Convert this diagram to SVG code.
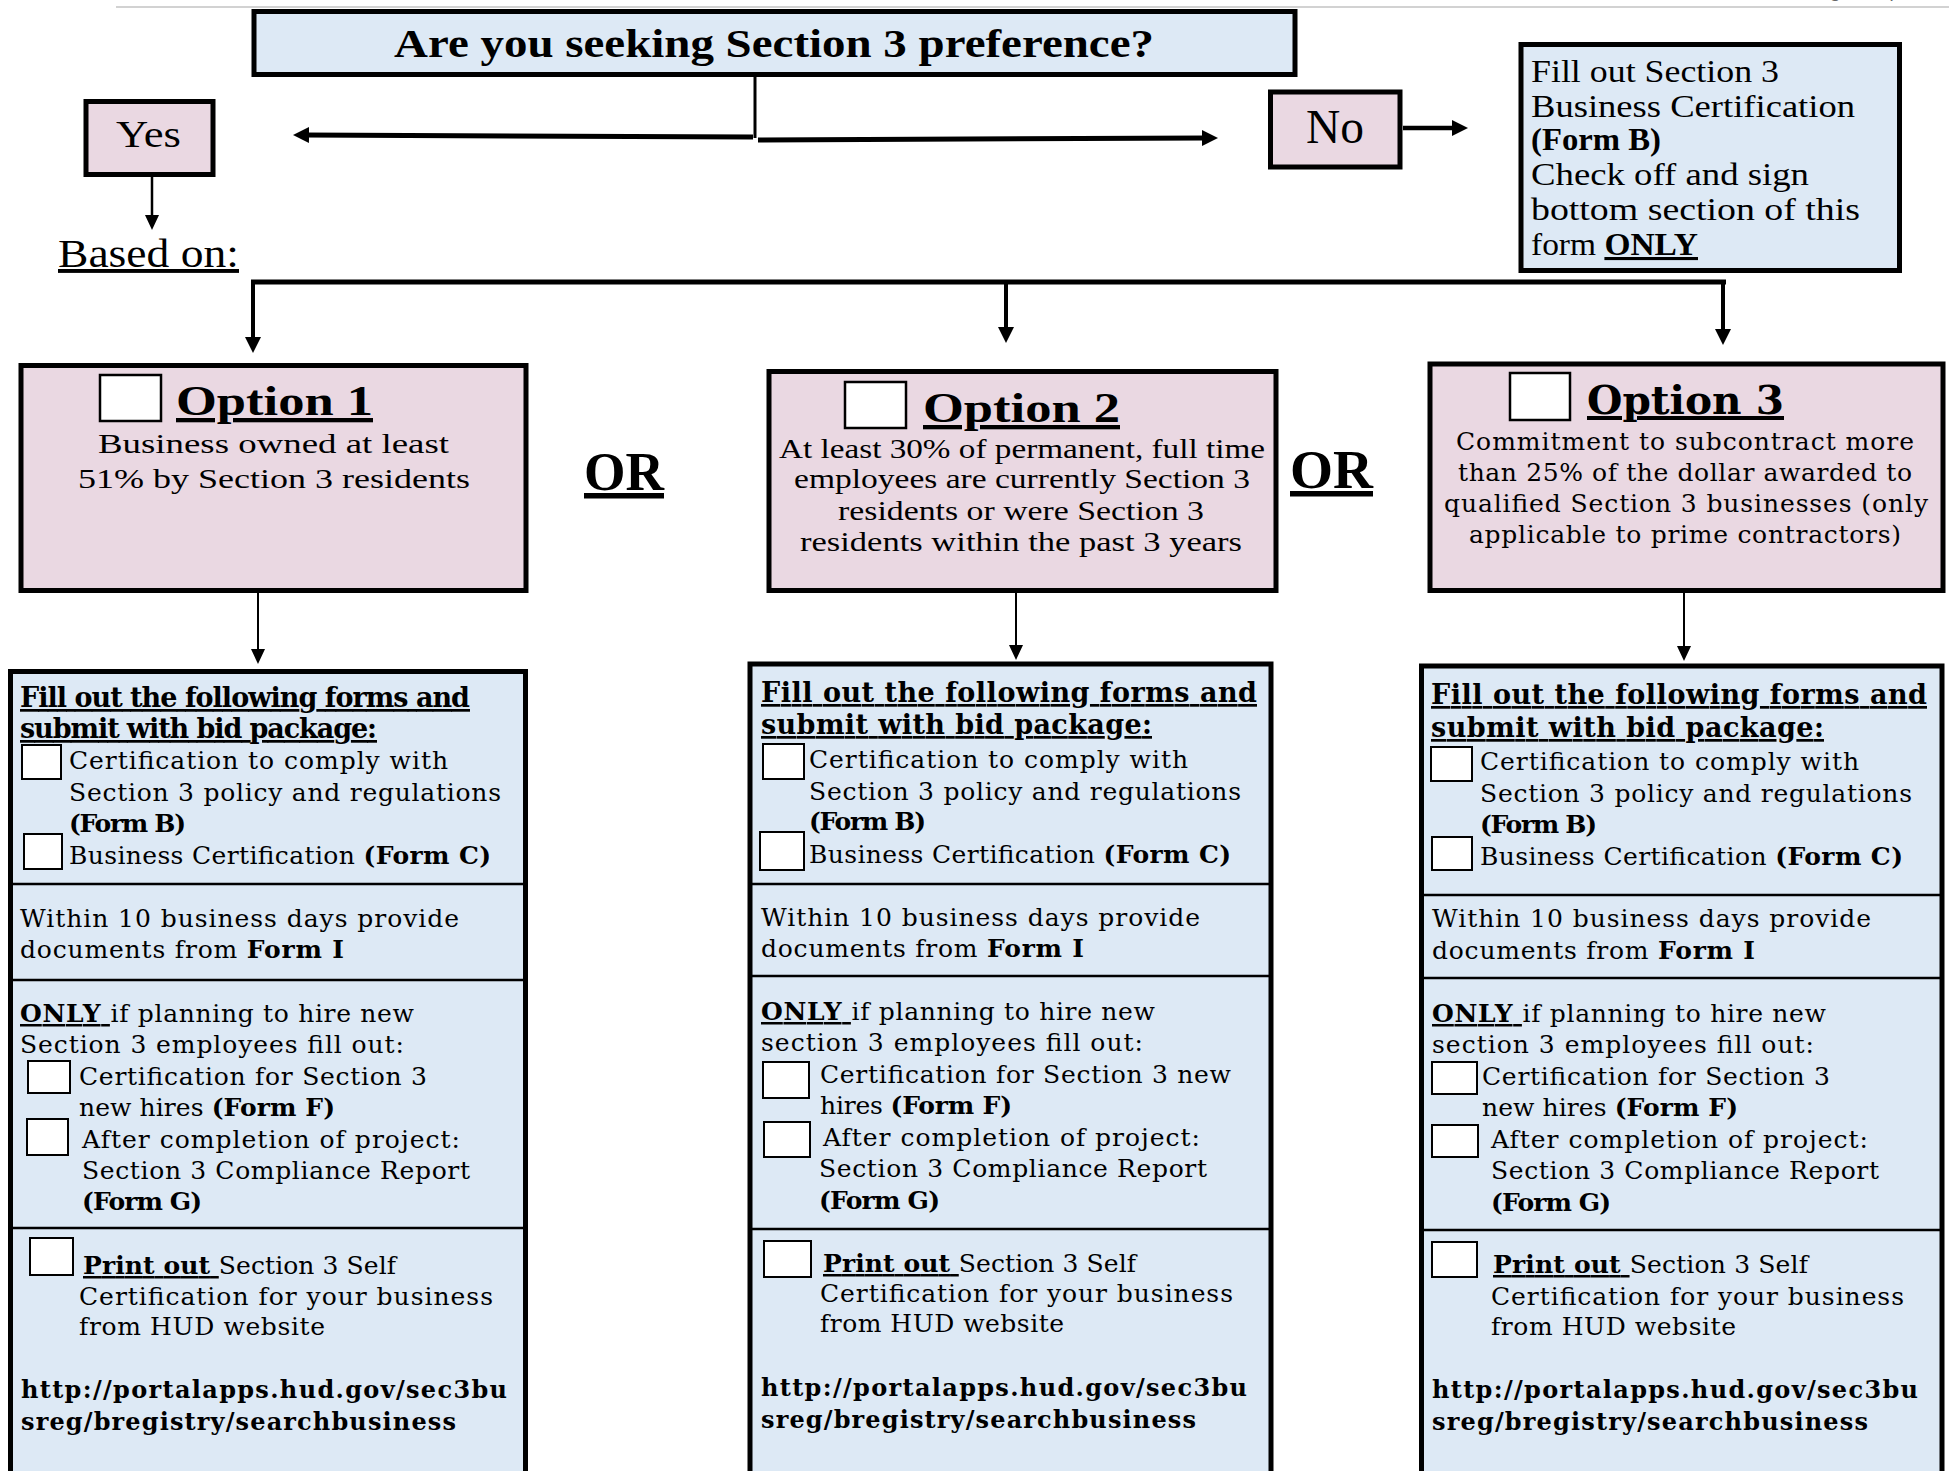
<svg xmlns="http://www.w3.org/2000/svg" width="1954" height="1471" viewBox="0 0 1954 1471">
<style>
.box{stroke:#000;stroke-width:5}
.pink{fill:#ead8e2}
.blue{fill:#dde9f5}
.cb{fill:#fff;stroke:#000;stroke-width:2}
.cbo{fill:#fff;stroke:#000;stroke-width:2.5}
.div{stroke:#000;stroke-width:2.5}
.cam{font-family:"Liberation Serif",serif;fill:#000}
.dv{font-family:"DejaVu Serif",serif;font-size:25px;fill:#000}
.hd{font-size:27px;font-weight:bold;text-decoration:underline}
.url{font-size:24px;font-weight:bold}
.b{font-weight:bold}
.u{text-decoration:underline}
.conn{stroke:#000;fill:none}
</style>
<defs>
<marker id="ahT" viewBox="0 0 16 16" refX="4" refY="8" markerWidth="16" markerHeight="16" markerUnits="userSpaceOnUse" orient="auto"><path d="M0,0 L16,8 L0,16 z" fill="#000"/></marker>
<marker id="ah" viewBox="0 0 15 14" refX="3" refY="7" markerWidth="15" markerHeight="14" markerUnits="userSpaceOnUse" orient="auto"><path d="M0,0 L15,7 L0,14 z" fill="#000"/></marker>
</defs>
<rect width="1954" height="1471" fill="#fff"/>

<g id="page-header">
<line x1="116" y1="7" x2="1949" y2="7" stroke="#d2d2d2" stroke-width="2"/>
<text y="-3" font-family="Liberation Sans,sans-serif" font-size="20" fill="#666"><tspan x="1805">Page</tspan><tspan x="1889">|</tspan><tspan x="1900">1</tspan></text>
</g>

<g id="connectors">
<path class="conn" d="M755,77 V138" stroke-width="3"/>
<path class="conn" d="M753,137 L305,135" stroke-width="5" marker-end="url(#ahT)"/>
<path class="conn" d="M758,140 L1206,138" stroke-width="5" marker-end="url(#ahT)"/>
<path class="conn" d="M152,177 V218" stroke-width="2.5" marker-end="url(#ah)"/>
<path class="conn" d="M1403,128 H1456" stroke-width="4.5" marker-end="url(#ahT)"/>
<path class="conn" d="M251,282 H1726" stroke-width="5"/>
<path class="conn" d="M253,282 V341" stroke-width="4" marker-end="url(#ahT)"/>
<path class="conn" d="M1006,282 V331" stroke-width="4" marker-end="url(#ahT)"/>
<path class="conn" d="M1723,282 V333" stroke-width="4" marker-end="url(#ahT)"/>
<path class="conn" d="M258,593 V652" stroke-width="2" marker-end="url(#ah)"/>
<path class="conn" d="M1016,593 V648" stroke-width="2" marker-end="url(#ah)"/>
<path class="conn" d="M1684,593 V649" stroke-width="2" marker-end="url(#ah)"/>
</g>

<g id="question">
<rect class="box blue" x="254" y="11.5" width="1041" height="63"/>
<text class="cam b" x="394" y="57" font-size="39" textLength="760" lengthAdjust="spacingAndGlyphs">Are you seeking Section 3 preference?</text>
</g>

<g id="yes">
<rect class="box pink" x="86" y="101.5" width="127" height="73"/>
<text class="cam" x="116" y="147" font-size="37" textLength="65" lengthAdjust="spacingAndGlyphs">Yes</text>
</g>

<g id="based-on">
<text class="cam u" x="58" y="267" font-size="39" textLength="181" lengthAdjust="spacingAndGlyphs">Based on:</text>
</g>

<g id="no">
<rect class="box pink" x="1270.5" y="92" width="129.5" height="75"/>
<text class="cam" x="1306" y="143" font-size="48" textLength="58" lengthAdjust="spacingAndGlyphs">No</text>
</g>

<g id="no-info">
<rect class="box blue" x="1521" y="44.5" width="378.5" height="226"/>
<text class="cam" x="1531" y="82" font-size="31" textLength="248" lengthAdjust="spacingAndGlyphs">Fill out Section 3</text>
<text class="cam" x="1531" y="117" font-size="31" textLength="324" lengthAdjust="spacingAndGlyphs">Business Certification</text>
<text class="cam b" x="1531" y="150" font-size="31" textLength="130" lengthAdjust="spacingAndGlyphs">(Form B)</text>
<text class="cam" x="1531" y="185" font-size="31" textLength="278" lengthAdjust="spacingAndGlyphs">Check off and sign</text>
<text class="cam" x="1531" y="220" font-size="31" textLength="329" lengthAdjust="spacingAndGlyphs">bottom section of this</text>
<text class="cam" x="1531" y="255" font-size="31" textLength="167" lengthAdjust="spacingAndGlyphs">form <tspan class="b u">ONLY</tspan></text>
</g>

<g id="option1">
<rect class="box pink" x="21" y="365.5" width="505" height="225"/>
<rect class="cbo" x="100" y="375" width="61" height="46"/>
<text class="cam b u" x="176" y="415" font-size="43" textLength="197" lengthAdjust="spacingAndGlyphs">Option 1</text>
<text class="cam" x="98" y="453" font-size="27.5" textLength="351" lengthAdjust="spacingAndGlyphs">Business owned at least</text>
<text class="cam" x="78" y="488" font-size="27.5" textLength="392" lengthAdjust="spacingAndGlyphs">51% by Section 3 residents</text>
</g>

<g id="or1">
<text class="cam b u" x="584" y="490" font-size="55" textLength="80" lengthAdjust="spacingAndGlyphs">OR</text>
</g>

<g id="option2">
<rect class="box pink" x="769" y="371.5" width="507" height="219"/>
<rect class="cbo" x="845" y="382" width="61" height="46"/>
<text class="cam b u" x="923" y="422" font-size="43" textLength="197" lengthAdjust="spacingAndGlyphs">Option 2</text>
<text class="cam" x="779" y="458" font-size="27.5" textLength="486" lengthAdjust="spacingAndGlyphs">At least 30% of permanent, full time</text>
<text class="cam" x="794" y="488" font-size="27.5" textLength="456" lengthAdjust="spacingAndGlyphs">employees are currently Section 3</text>
<text class="cam" x="838" y="520" font-size="27.5" textLength="366" lengthAdjust="spacingAndGlyphs">residents or were Section 3</text>
<text class="cam" x="800" y="551" font-size="27.5" textLength="442" lengthAdjust="spacingAndGlyphs">residents within the past 3 years</text>
</g>

<g id="or2">
<text class="cam b u" x="1290" y="488" font-size="55" textLength="83" lengthAdjust="spacingAndGlyphs">OR</text>
</g>

<g id="option3">
<rect class="box pink" x="1430" y="364" width="513" height="226.5"/>
<rect class="cbo" x="1510" y="373" width="60" height="47"/>
<text class="dv b u" x="1587" y="414" style="font-size:40px" textLength="197" lengthAdjust="spacingAndGlyphs">Option 3</text>
<text class="dv" x="1456" y="450" textLength="458">Commitment to subcontract more</text>
<text class="dv" x="1458" y="481" textLength="454">than 25% of the dollar awarded to</text>
<text class="dv" x="1444" y="512" textLength="484">qualified Section 3 businesses (only</text>
<text class="dv" x="1469" y="543" textLength="432">applicable to prime contractors)</text>
</g>

<g id="forms1">
<rect class="box blue" x="10.5" y="671.5" width="515" height="830"/>
<line class="div" x1="10.5" y1="884" x2="525.5" y2="884"/>
<line class="div" x1="10.5" y1="980" x2="525.5" y2="980"/>
<line class="div" x1="10.5" y1="1228" x2="525.5" y2="1228"/>
<rect class="cb" x="22" y="745" width="39" height="34"/>
<rect class="cb" x="24" y="834" width="38" height="35"/>
<rect class="cb" x="28" y="1061" width="42" height="32"/>
<rect class="cb" x="27" y="1119" width="41" height="36"/>
<rect class="cb" x="30" y="1238" width="43" height="37"/>
<text class="dv hd" x="20" y="707" textLength="450">Fill out the following forms and</text>
<text class="dv hd" x="20" y="738" textLength="357">submit with bid package:</text>
<text class="dv" x="69" y="769" textLength="379">Certification to comply with</text>
<text class="dv" x="69" y="801" textLength="432">Section 3 policy and regulations</text>
<text class="dv b" x="69" y="832" textLength="117">(Form B)</text>
<text class="dv" x="69" y="864" textLength="422">Business Certification <tspan class="b">(Form C)</tspan></text>
<text class="dv" x="20" y="927" textLength="439">Within 10 business days provide</text>
<text class="dv" x="20" y="958" textLength="324">documents from <tspan class="b">Form I</tspan></text>
<text class="dv" x="20" y="1022" textLength="394"><tspan class="b u">ONLY </tspan>if planning to hire new</text>
<text class="dv" x="20" y="1053" textLength="384">Section 3 employees fill out:</text>
<text class="dv" x="79" y="1085" textLength="348">Certification for Section 3</text>
<text class="dv" x="79" y="1116" textLength="256">new hires <tspan class="b">(Form F)</tspan></text>
<text class="dv" x="82" y="1148" textLength="378">After completion of project:</text>
<text class="dv" x="82" y="1179" textLength="388">Section 3 Compliance Report</text>
<text class="dv b" x="82" y="1210" textLength="120">(Form G)</text>
<text class="dv" x="83" y="1274" textLength="313"><tspan class="b u">Print out </tspan>Section 3 Self</text>
<text class="dv" x="79" y="1305" textLength="414">Certification for your business</text>
<text class="dv" x="79" y="1335" textLength="246">from HUD website</text>
<text class="dv url" x="21" y="1398" textLength="486">http://portalapps.hud.gov/sec3bu</text>
<text class="dv url" x="21" y="1430" textLength="435">sreg/bregistry/searchbusiness</text>
</g>

<g id="forms2">
<rect class="box blue" x="750" y="664" width="521" height="840"/>
<line class="div" x1="750" y1="884" x2="1271" y2="884"/>
<line class="div" x1="750" y1="976" x2="1271" y2="976"/>
<line class="div" x1="750" y1="1229" x2="1271" y2="1229"/>
<rect class="cb" x="763" y="744" width="41" height="35"/>
<rect class="cb" x="760" y="832" width="44" height="38"/>
<rect class="cb" x="763" y="1062" width="46" height="36"/>
<rect class="cb" x="764" y="1122" width="46" height="35"/>
<rect class="cb" x="764" y="1241" width="47" height="36"/>
<text class="dv hd" x="761" y="702" textLength="496">Fill out the following forms and</text>
<text class="dv hd" x="761" y="734" textLength="391">submit with bid package:</text>
<text class="dv" x="809" y="768" textLength="379">Certification to comply with</text>
<text class="dv" x="809" y="800" textLength="432">Section 3 policy and regulations</text>
<text class="dv b" x="809" y="830" textLength="117">(Form B)</text>
<text class="dv" x="809" y="863" textLength="422">Business Certification <tspan class="b">(Form C)</tspan></text>
<text class="dv" x="761" y="926" textLength="439">Within 10 business days provide</text>
<text class="dv" x="761" y="957" textLength="323">documents from <tspan class="b">Form I</tspan></text>
<text class="dv" x="761" y="1020" textLength="394"><tspan class="b u">ONLY </tspan>if planning to hire new</text>
<text class="dv" x="761" y="1051" textLength="382">section 3 employees fill out:</text>
<text class="dv" x="820" y="1083" textLength="411">Certification for Section 3 new</text>
<text class="dv" x="820" y="1114" textLength="192">hires <tspan class="b">(Form F)</tspan></text>
<text class="dv" x="823" y="1146" textLength="377">After completion of project:</text>
<text class="dv" x="819" y="1177" textLength="388">Section 3 Compliance Report</text>
<text class="dv b" x="819" y="1209" textLength="121">(Form G)</text>
<text class="dv" x="823" y="1272" textLength="313"><tspan class="b u">Print out </tspan>Section 3 Self</text>
<text class="dv" x="820" y="1302" textLength="413">Certification for your business</text>
<text class="dv" x="820" y="1332" textLength="244">from HUD website</text>
<text class="dv url" x="761" y="1396" textLength="486">http://portalapps.hud.gov/sec3bu</text>
<text class="dv url" x="761" y="1428" textLength="435">sreg/bregistry/searchbusiness</text>
</g>

<g id="forms3">
<rect class="box blue" x="1421.5" y="666" width="520.5" height="840"/>
<line class="div" x1="1421.5" y1="895" x2="1942" y2="895"/>
<line class="div" x1="1421.5" y1="978" x2="1942" y2="978"/>
<line class="div" x1="1421.5" y1="1230" x2="1942" y2="1230"/>
<rect class="cb" x="1431" y="747" width="41" height="34"/>
<rect class="cb" x="1432" y="837" width="40" height="33"/>
<rect class="cb" x="1432" y="1062" width="45" height="32"/>
<rect class="cb" x="1432" y="1125" width="46" height="32"/>
<rect class="cb" x="1432" y="1242" width="45" height="35"/>
<text class="dv hd" x="1431" y="704" textLength="496">Fill out the following forms and</text>
<text class="dv hd" x="1431" y="737" textLength="393">submit with bid package:</text>
<text class="dv" x="1480" y="770" textLength="379">Certification to comply with</text>
<text class="dv" x="1480" y="802" textLength="432">Section 3 policy and regulations</text>
<text class="dv b" x="1480" y="833" textLength="117">(Form B)</text>
<text class="dv" x="1480" y="865" textLength="423">Business Certification <tspan class="b">(Form C)</tspan></text>
<text class="dv" x="1432" y="927" textLength="439">Within 10 business days provide</text>
<text class="dv" x="1432" y="959" textLength="323">documents from <tspan class="b">Form I</tspan></text>
<text class="dv" x="1432" y="1022" textLength="394"><tspan class="b u">ONLY </tspan>if planning to hire new</text>
<text class="dv" x="1432" y="1053" textLength="382">section 3 employees fill out:</text>
<text class="dv" x="1482" y="1085" textLength="348">Certification for Section 3</text>
<text class="dv" x="1482" y="1116" textLength="256">new hires <tspan class="b">(Form F)</tspan></text>
<text class="dv" x="1491" y="1148" textLength="377">After completion of project:</text>
<text class="dv" x="1491" y="1179" textLength="388">Section 3 Compliance Report</text>
<text class="dv b" x="1491" y="1211" textLength="120">(Form G)</text>
<text class="dv" x="1493" y="1273" textLength="315"><tspan class="b u">Print out </tspan>Section 3 Self</text>
<text class="dv" x="1491" y="1305" textLength="413">Certification for your business</text>
<text class="dv" x="1491" y="1335" textLength="245">from HUD website</text>
<text class="dv url" x="1432" y="1398" textLength="486">http://portalapps.hud.gov/sec3bu</text>
<text class="dv url" x="1432" y="1430" textLength="436">sreg/bregistry/searchbusiness</text>
</g>
</svg>
